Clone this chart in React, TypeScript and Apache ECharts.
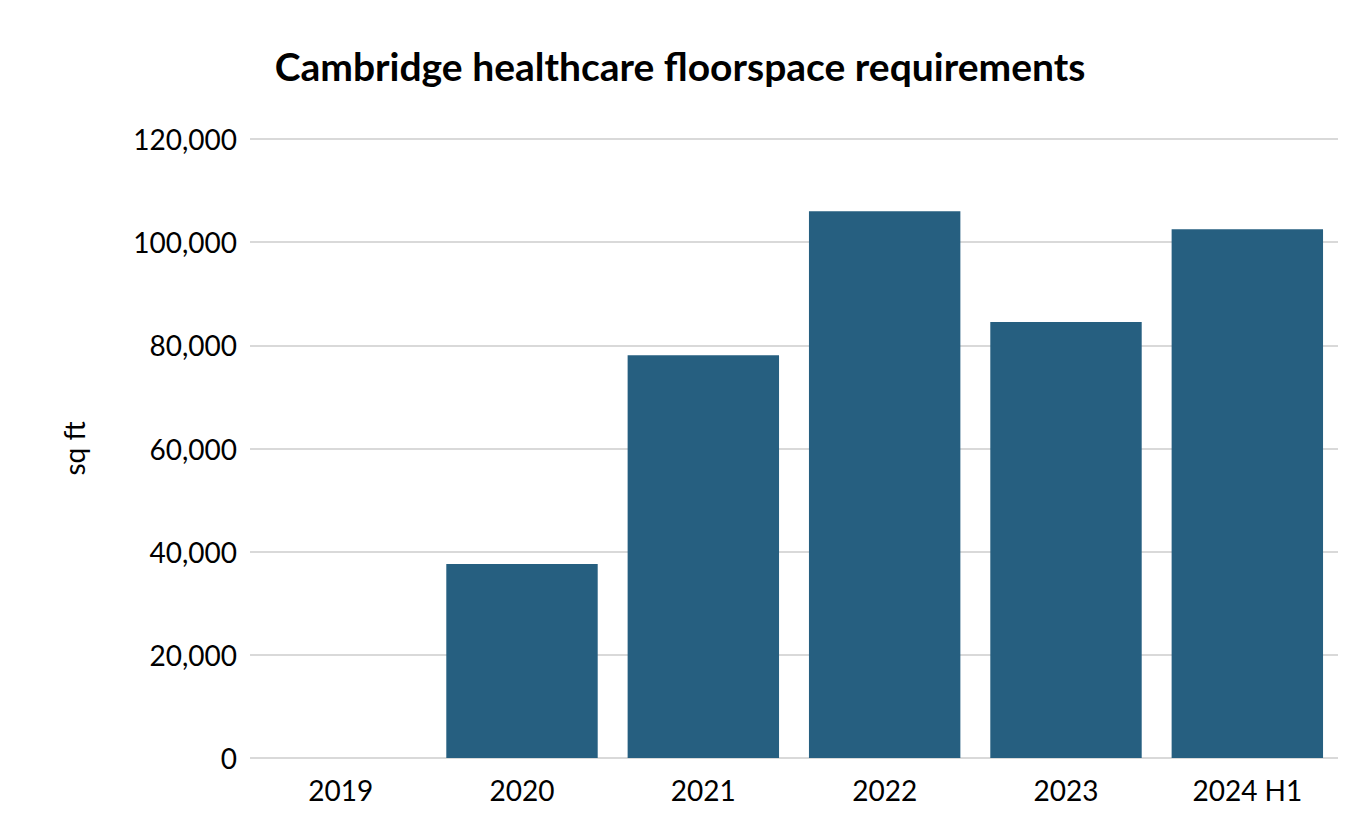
import React, { useEffect, useRef } from "react";
import * as echarts from "echarts";

const categories = ["2019", "2020", "2021", "2022", "2023", "2024 H1"];
const values = [0, 37600, 78100, 106000, 84500, 102500];
const yTicks = { min: 0, max: 120000, interval: 20000 };

const FONT = "Lato, 'Open Sans', sans-serif";

export default function App() {
  const ref = useRef<HTMLDivElement>(null);
  useEffect(() => {
    if (!ref.current) return;
    const chart = echarts.init(ref.current, null, { renderer: "svg" });
    chart.setOption({
      animation: false,
      backgroundColor: "#ffffff",
      title: {
        text: "Cambridge healthcare floorspace requirements",
        left: 675,
        top: 41,
        textAlign: "center",
        textStyle: { fontFamily: FONT, fontWeight: "bold", fontSize: 39, color: "#000" },
      },
      grid: { left: 250, right: 20, top: 139, bottom: 59, containLabel: false },
      xAxis: {
        type: "category",
        data: categories,
        axisLine: { show: false },
        axisTick: { show: false },
        axisLabel: { color: "#000", fontFamily: FONT, fontSize: 28, margin: 18 },
      },
      yAxis: {
        type: "value",
        min: yTicks.min,
        max: yTicks.max,
        interval: yTicks.interval,
        name: "sq ft",
        nameLocation: "middle",
        nameGap: 162,
        nameRotate: 90,
        nameTextStyle: { color: "#000", fontFamily: FONT, fontSize: 28 },
        axisLine: { show: false },
        axisTick: { show: false },
        splitLine: { lineStyle: { color: "#d9d9d9", width: 2 } },
        axisLabel: {
          color: "#000",
          fontFamily: FONT,
          fontSize: 28,
          margin: 13,
          formatter: (v: number) => v.toLocaleString("en-US"),
        },
      },
      series: [
        {
          type: "bar",
          data: values,
          barCategoryGap: "16.5%",
          itemStyle: { color: "#265f80" },
        },
      ],
    });
    return () => chart.dispose();
  }, []);
  return (
    <div
      ref={ref}
      style={{ position: "fixed", left: 0, top: 0, width: 1358, height: 817 }}
    />
  );
}
